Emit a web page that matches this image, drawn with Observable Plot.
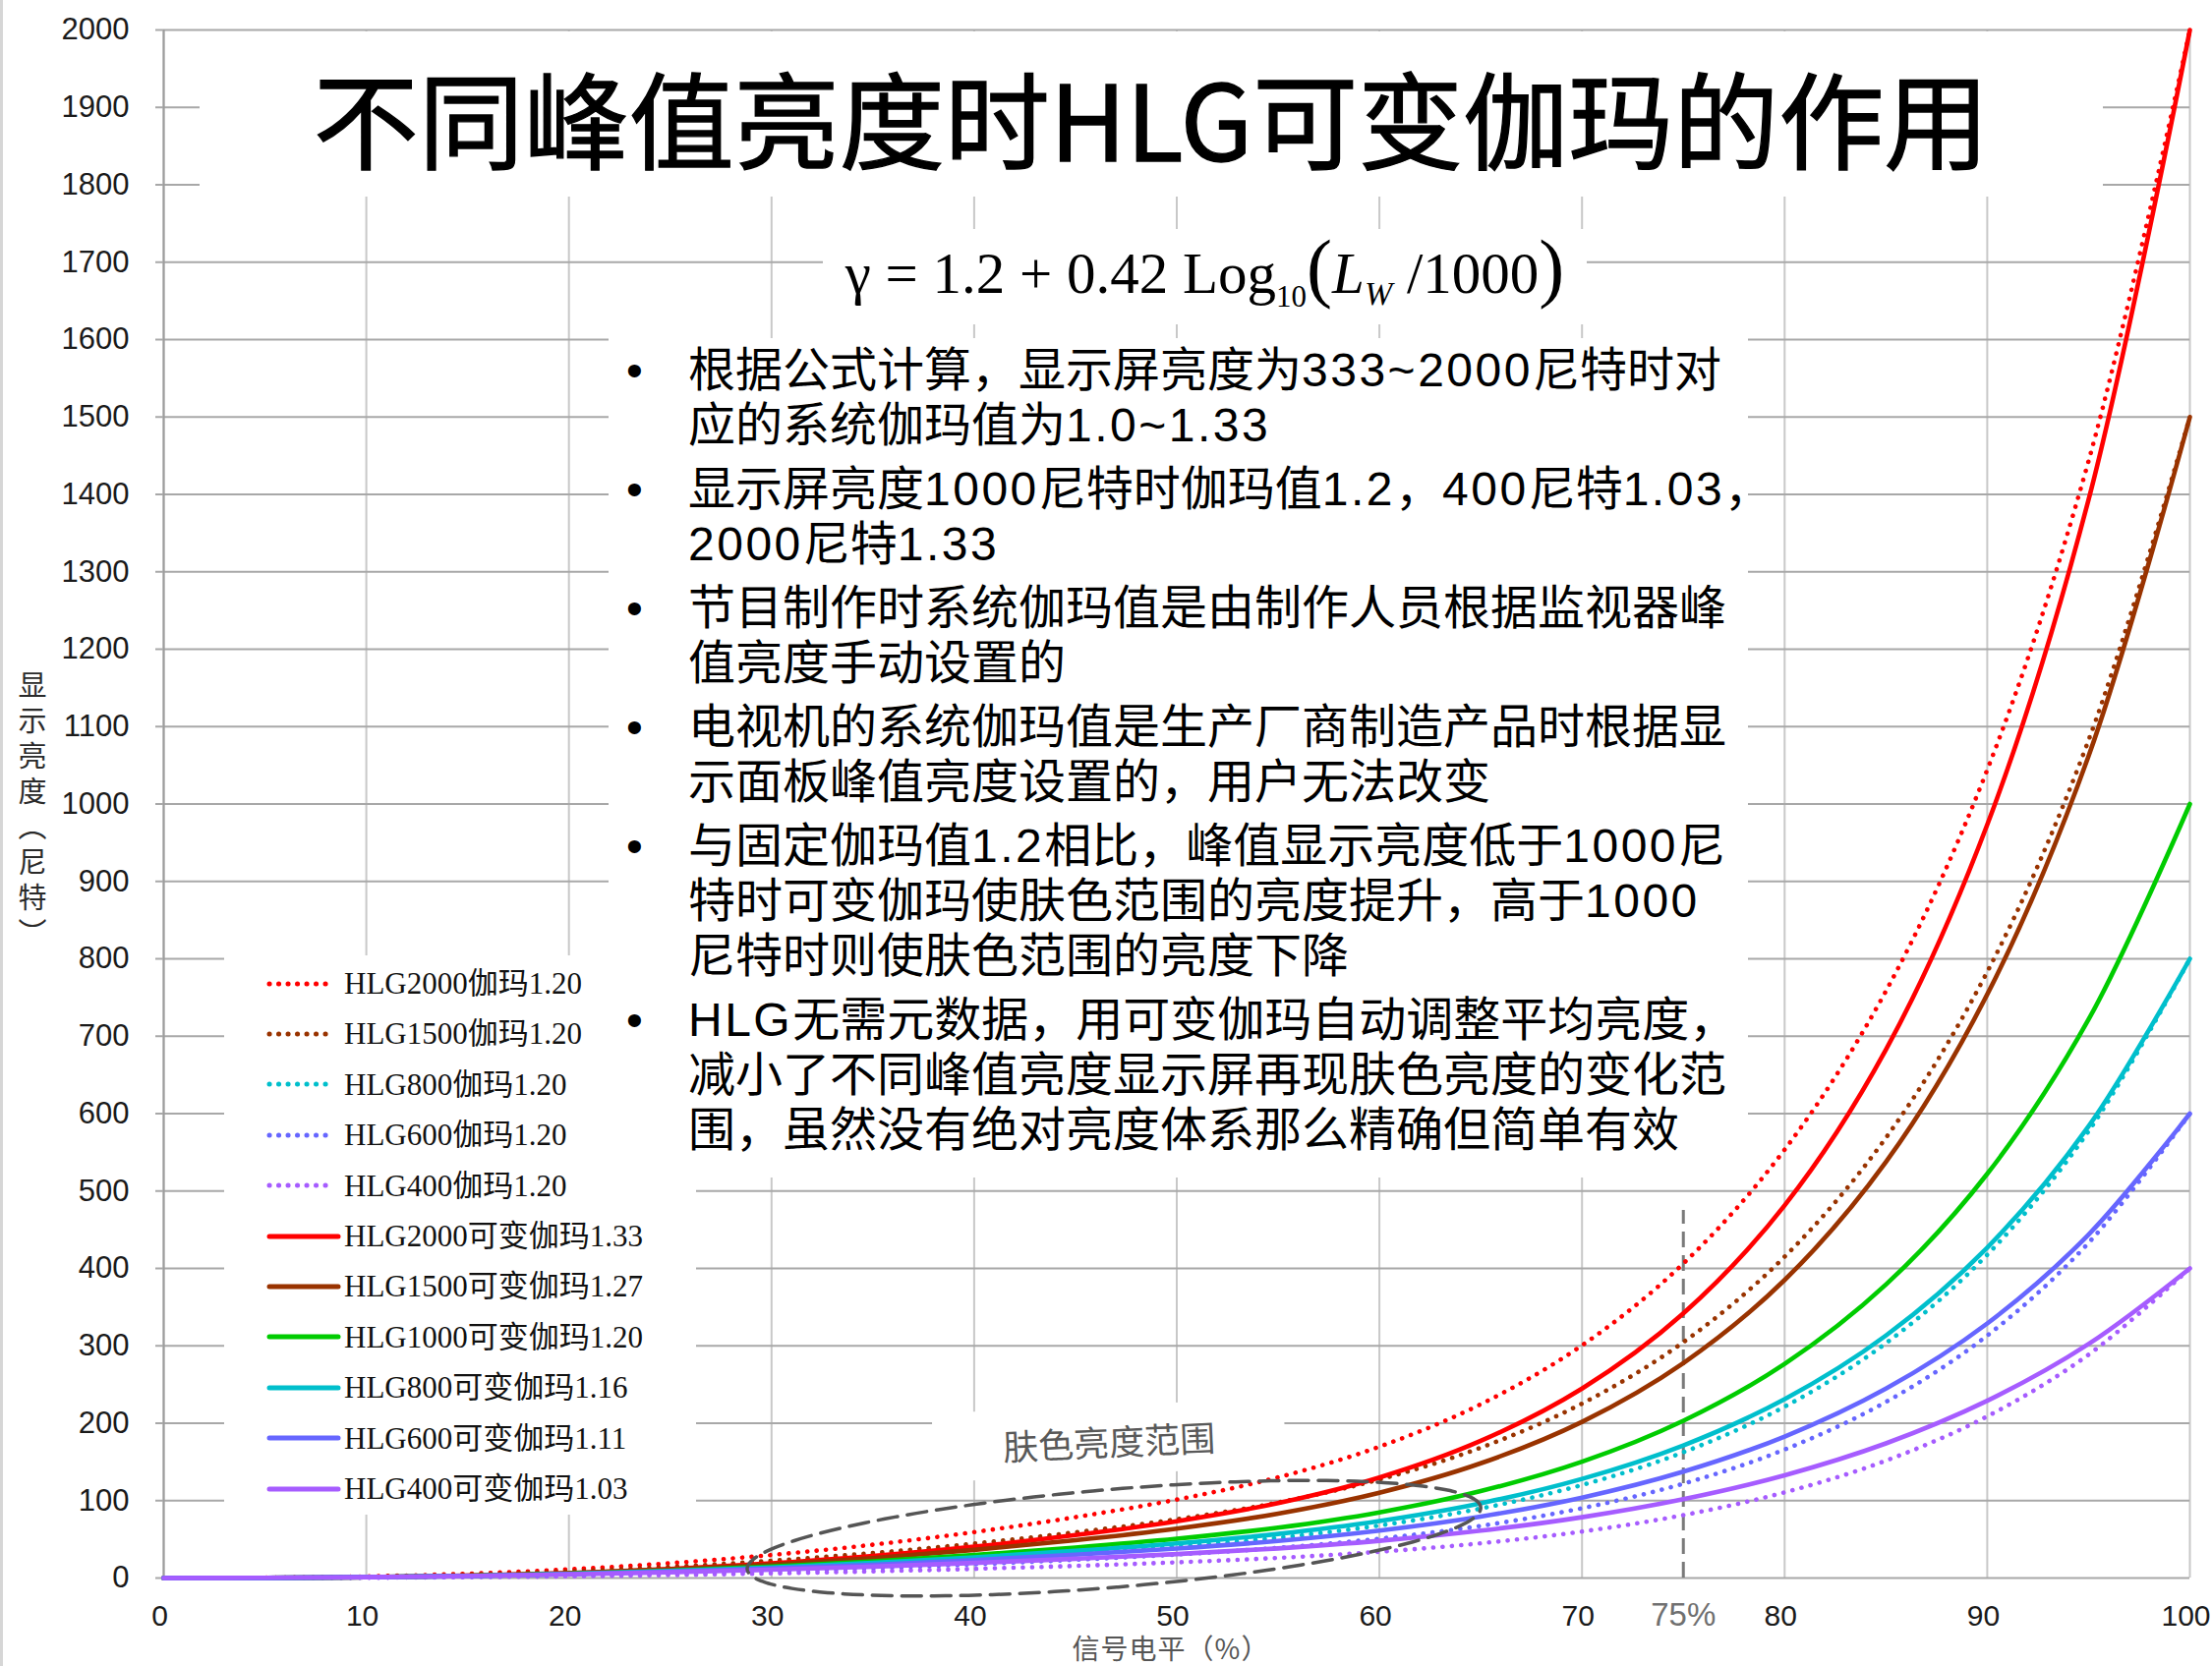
<!DOCTYPE html>
<html>
<head>
<meta charset="utf-8">
<script src="https://cdn.jsdelivr.net/npm/d3@7"></script>
<script src="https://cdn.jsdelivr.net/npm/@observablehq/plot@0.6"></script>
<style>
  html, body { margin: 0; padding: 0; background: #fff; }
  #wrap { position: relative; width: 2250px; height: 1695px; overflow: hidden; background: #fff;
          font-family: "Liberation Sans", "Noto Sans CJK SC", sans-serif; }
  #wrap svg.plot { position: absolute; left: 0; top: 0; }
  .box { position: absolute; background: #fff; }
  #edge { position: absolute; left: 0; top: 0; width: 3px; height: 1695px; background: #d6d6d6; }
  #title { left: 203px; top: 32px; width: 1936px; height: 168px; display: flex; align-items: center; justify-content: center;
           font-family: "Noto Sans CJK SC", sans-serif; font-size: 107px; color: #000; line-height: 1; padding-top: 2px; box-sizing: border-box;
           -webkit-text-stroke: 1.3px #000; }
  #formula { left: 837px; top: 233px; width: 777px; height: 97px; }
  #formula .f { position: absolute; left: 0; right: 0; top: 16px; text-align: center; white-space: nowrap;
                font-family: "Liberation Serif", "DejaVu Serif", serif; font-size: 59px; line-height: 1; color: #000; }
  #formula .p { font-size: 78px; line-height: 0; }
  #formula .s { font-size: 31px; position: relative; top: 14px; line-height: 0; }
  #formula .sw { font-size: 34px; position: relative; top: 12px; font-style: italic; line-height: 0; }
  #bullets { left: 619px; top: 344px; width: 1159px; height: 854px; }
  #bullets .para { position: relative; padding-left: 81px; font-size: 48px; line-height: 56px; color: #000; margin-bottom: 9px; white-space: nowrap; }
  #bullets .para::before { content: "•"; position: absolute; left: 18px; top: 0; }
  #bullets .inner { position: absolute; left: 0; top: 5px; }
  #bullets .lat { letter-spacing: 2.5px; }
  #legend { left: 228px; top: 972px; width: 391px; height: 569px; overflow: visible; }
  #legpatch { left: 619px; top: 1198px; width: 89px; height: 343px; }
  #legend .row { position: absolute; left: 0; height: 51.4px; }
  #legend svg { position: absolute; left: 42px; top: 15.7px; }
  #legend .lt { position: absolute; left: 122px; top: 0; height: 51.4px; line-height: 51.4px; white-space: nowrap;
                font-family: "Liberation Serif", "Noto Sans CJK SC", serif; font-size: 31px; color: #111; }
  #skin { left: 949px; top: 1430px; width: 358px; height: 70px; transform: rotate(-2.6deg); transform-origin: center;
          display: flex; align-items: center; justify-content: center; font-family: "Noto Sans CJK SC", sans-serif;
          font-size: 36px; color: #595959; }
  #ylab { position: absolute; left: 18px; top: 682px; writing-mode: vertical-rl; font-family: "Noto Sans CJK SC", sans-serif;
          font-size: 29px; letter-spacing: 7px; color: #2a2a2a; line-height: 1; }
  #xlab { position: absolute; left: 1191px; top: 1676px; transform: translate(-50%, -50%); font-family: "Noto Sans CJK SC", sans-serif;
          font-size: 28px; letter-spacing: 1px; line-height: 1; color: #555; white-space: nowrap; }
</style>
</head>
<body>
<div id="wrap"></div>
<script>
// ---------- data ----------
const signal = [0, 5, 10, 15, 20, 25, 30, 35, 40, 45, 50, 55, 60, 65, 70, 75, 80, 85, 90, 95, 100];

// fixed gamma 1.20 (dotted)
const hlg2000Fixed = [0, 0.4, 2.1, 5.6, 11.2, 19.2, 29.8, 43.1, 59.4, 78.7, 101.4, 130.1, 169.7, 224.5, 300.6, 406.3, 553.5, 758.4, 1044.3, 1443.2, 2000];
const hlg1500Fixed = [0, 0.3, 1.6, 4.2, 8.4, 14.4, 22.3, 32.3, 44.5, 59.1, 76.0, 97.6, 127.3, 168.4, 225.4, 304.7, 415.1, 568.8, 783.2, 1082.4, 1500];
const hlg800Fixed  = [0, 0.2, 0.9, 2.3, 4.5, 7.7, 11.9, 17.2, 23.7, 31.5, 40.6, 52.0, 67.9, 89.8, 120.2, 162.5, 221.4, 303.4, 417.7, 577.3, 800];
const hlg600Fixed  = [0, 0.1, 0.6, 1.7, 3.4, 5.8, 8.9, 12.9, 17.8, 23.6, 30.4, 39.0, 50.9, 67.4, 90.2, 121.9, 166.0, 227.5, 313.3, 433.0, 600];
const hlg400Fixed  = [0, 0.1, 0.4, 1.1, 2.2, 3.8, 6.0, 8.6, 11.9, 15.7, 20.3, 26.0, 33.9, 44.9, 60.1, 81.3, 110.7, 151.7, 208.9, 288.6, 400];

// variable gamma (solid)
const hlg2000Var = [0, 0.2, 1.0, 3.0, 6.4, 11.6, 18.9, 28.4, 40.5, 55.5, 73.4, 96.8, 129.9, 177.2, 244.8, 341.9, 481.5, 682.7, 973.3, 1393.1, 2000];
const hlg1500Var = [0, 0.2, 1.1, 3.0, 6.2, 11.0, 17.5, 25.8, 36.3, 48.9, 63.9, 83.2, 110.2, 148.2, 201.8, 277.7, 385.1, 537.5, 754.1, 1062.0, 1500];
const hlg1000Var = [0, 0.2, 1.1, 2.8, 5.6, 9.6, 14.9, 21.5, 29.7, 39.4, 50.7, 65.1, 84.9, 112.3, 150.3, 203.2, 276.7, 379.2, 522.2, 721.6, 1000];
const hlg800Var  = [0, 0.2, 1.1, 2.7, 5.3, 9.0, 13.7, 19.6, 26.7, 35.1, 44.8, 57.0, 73.7, 96.6, 128.1, 171.4, 231.1, 313.3, 426.9, 583.6, 800];
const hlg600Var  = [0, 0.2, 1.1, 2.6, 5.0, 8.2, 12.2, 17.2, 23.2, 30.1, 38.0, 47.9, 61.3, 79.4, 103.9, 137.4, 182.8, 244.7, 328.9, 443.7, 600];
const hlg400Var  = [0, 0.3, 1.1, 2.6, 4.7, 7.4, 10.8, 14.8, 19.5, 24.9, 30.9, 38.3, 48.1, 61.2, 78.6, 101.9, 132.8, 174.0, 229.0, 302.3, 400];

const seriesNames = [
  "HLG2000伽玛1.20", "HLG1500伽玛1.20", "HLG800伽玛1.20", "HLG600伽玛1.20", "HLG400伽玛1.20",
  "HLG2000可变伽玛1.33", "HLG1500可变伽玛1.27", "HLG1000可变伽玛1.20", "HLG800可变伽玛1.16", "HLG600可变伽玛1.11", "HLG400可变伽玛1.03"
];
const seriesValues = [hlg2000Fixed, hlg1500Fixed, hlg800Fixed, hlg600Fixed, hlg400Fixed,
                      hlg2000Var, hlg1500Var, hlg1000Var, hlg800Var, hlg600Var, hlg400Var];
const seriesColors = ["#ff0000", "#993300", "#00bfcc", "#6666ff", "#a65cff",
                      "#ff0000", "#993300", "#00cc00", "#00bfcc", "#6666ff", "#a65cff"];
const seriesDotted = [true, true, true, true, true, false, false, false, false, false, false];

const xTicks = [0, 10, 20, 30, 40, 50, 60, 70, 80, 90, 100];
const yTicks = [0, 100, 200, 300, 400, 500, 600, 700, 800, 900, 1000, 1100, 1200, 1300, 1400, 1500, 1600, 1700, 1800, 1900, 2000];

// annotations
const refSignal = 75;          // 75% marker
const refLineTop = 475;        // top of dashed marker (nits)
const skinCenter = [46.9, 51.4];
const skinMajor = [18.1, 40];  // half major axis (signal %, nits)
const skinMinor = [-0.2, 63];  // half minor axis (signal %, nits)

const titleText = "不同峰值亮度时HLG可变伽玛的作用";
const bulletLines = [
  ["根据公式计算，显示屏亮度为333~2000尼特时对", "应的系统伽玛值为1.0~1.33"],
  ["显示屏亮度1000尼特时伽玛值1.2，400尼特1.03，", "2000尼特1.33"],
  ["节目制作时系统伽玛值是由制作人员根据监视器峰", "值亮度手动设置的"],
  ["电视机的系统伽玛值是生产厂商制造产品时根据显", "示面板峰值亮度设置的，用户无法改变"],
  ["与固定伽玛值1.2相比，峰值显示亮度低于1000尼", "特时可变伽玛使肤色范围的亮度提升，高于1000", "尼特时则使肤色范围的亮度下降"],
  ["HLG无需元数据，用可变伽玛自动调整平均亮度，", "减小了不同峰值亮度显示屏再现肤色亮度的变化范", "围，虽然没有绝对亮度体系那么精确但简单有效"]
];
const skinLabel = "肤色亮度范围";
const xLabel = "信号电平（%）";
const yLabel = "显示亮度（尼特）";

// ---------- build ----------
const tableFor = (vals) => signal.map((x, i) => ({x, y: vals[i]}));
const lineMarks = seriesValues.map((vals, k) => Plot.line(tableFor(vals), {
  x: "x", y: "y", curve: "catmull-rom",
  stroke: seriesColors[k],
  strokeWidth: 4.6,
  strokeLinecap: "round",
  strokeDasharray: seriesDotted[k] ? "0.1,9.4" : null
}));

const ellipsePts = d3.range(0, 360, 2).map(a => {
  const t = a * Math.PI / 180;
  return {
    x: skinCenter[0] + skinMajor[0] * Math.cos(t) + skinMinor[0] * Math.sin(t),
    y: skinCenter[1] + skinMajor[1] * Math.cos(t) + skinMinor[1] * Math.sin(t)
  };
});

const chart = Plot.plot({
  width: 2250, height: 1695,
  marginLeft: 166, marginRight: 23, marginTop: 30, marginBottom: 90,
  x: {domain: [0, 100]},
  y: {domain: [0, 2000]},
  style: {fontFamily: "'Liberation Sans', 'Noto Sans CJK SC', sans-serif", fontSize: "30px", color: "#1a1a1a", background: "transparent", overflow: "visible"},
  marks: [
    Plot.gridX({ticks: xTicks, stroke: "#c8c8c8", strokeOpacity: 1, strokeWidth: 2}),
    Plot.gridY({ticks: yTicks, stroke: "#a8a8a8", strokeOpacity: 1, strokeWidth: 2}),
    Plot.ruleX([0], {stroke: "#9c9c9c", strokeWidth: 2}),
    Plot.axisY({ticks: yTicks, tickSize: 8, tickPadding: 27, tickFormat: d => String(d), stroke: "#a8a8a8", strokeWidth: 2, fill: "#1a1a1a", fontSize: 31, label: null}),
    Plot.axisX({ticks: xTicks, tickSize: 0, tickPadding: 27, tickFormat: d => String(d), dx: -4, fill: "#1a1a1a", fontSize: 30, label: null}),
    Plot.axisX({ticks: [refSignal], tickSize: 0, tickPadding: 25, tickFormat: d => d + "%", fill: "#707070", fontSize: 33, label: null}),
    Plot.ruleX([refSignal], {y1: 0, y2: refLineTop, stroke: "#7a7a7a", strokeWidth: 3, strokeDasharray: "16,8"}),
    ...lineMarks,
    Plot.line(ellipsePts, {x: "x", y: "y", curve: "catmull-rom-closed", stroke: "#555", strokeWidth: 3.5, strokeDasharray: "20,10"})
  ]
});

const wrap = document.getElementById("wrap");
wrap.appendChild(chart);

function el(tag, attrs, html) {
  const e = document.createElement(tag);
  for (const k in attrs) e.setAttribute(k, attrs[k]);
  if (html != null) e.innerHTML = html;
  return e;
}
wrap.appendChild(el("div", {id: "edge"}));

// title
const t = el("div", {id: "title", class: "box"});
t.textContent = titleText;
wrap.appendChild(t);

// formula
const f = el("div", {id: "formula", class: "box"},
  '<div class="f">γ = 1.2 + 0.42 Log<span class="s">10</span><span class="p">(</span><i>L</i><span class="sw">W</span> /1000<span class="p">)</span></div>');
wrap.appendChild(f);

// legend (under the bullet box)
wrap.appendChild(el("div", {id: "legpatch", class: "box"}));
const lg = el("div", {id: "legend", class: "box"});
seriesNames.forEach((name, k) => {
  const row = el("div", {class: "row"});
  row.style.top = (3 + k * 51.4) + "px";
  row.style.width = "480px";
  const dash = seriesDotted[k] ? ' stroke-dasharray="0.1,9.4"' : '';
  const x2 = seriesDotted[k] ? 68 : 74;
  row.innerHTML = `<svg width="84" height="20"><line x1="4" y1="10" x2="${x2}" y2="10" stroke="${seriesColors[k]}" stroke-width="5" stroke-linecap="round"${dash}/></svg><span class="lt"></span>`;
  row.querySelector(".lt").textContent = name;
  lg.appendChild(row);
});
wrap.appendChild(lg);

// bullets
const b = el("div", {id: "bullets", class: "box"});
const inner = el("div", {class: "inner"});
bulletLines.forEach(lines => {
  const p = el("div", {class: "para"});
  p.innerHTML = lines.map(s => s.replace(/([\x21-\x7e]+)/g, '<span class="lat">$1</span>')).join("<br>");
  inner.appendChild(p);
});
b.appendChild(inner);
wrap.appendChild(b);

// skin tone label
const sk = el("div", {id: "skin", class: "box"});
sk.textContent = skinLabel;
wrap.appendChild(sk);

// axis titles
const yl = el("div", {id: "ylab"}); yl.textContent = yLabel; wrap.appendChild(yl);
const xl = el("div", {id: "xlab"}); xl.textContent = xLabel; wrap.appendChild(xl);
</script>
</body>
</html>
